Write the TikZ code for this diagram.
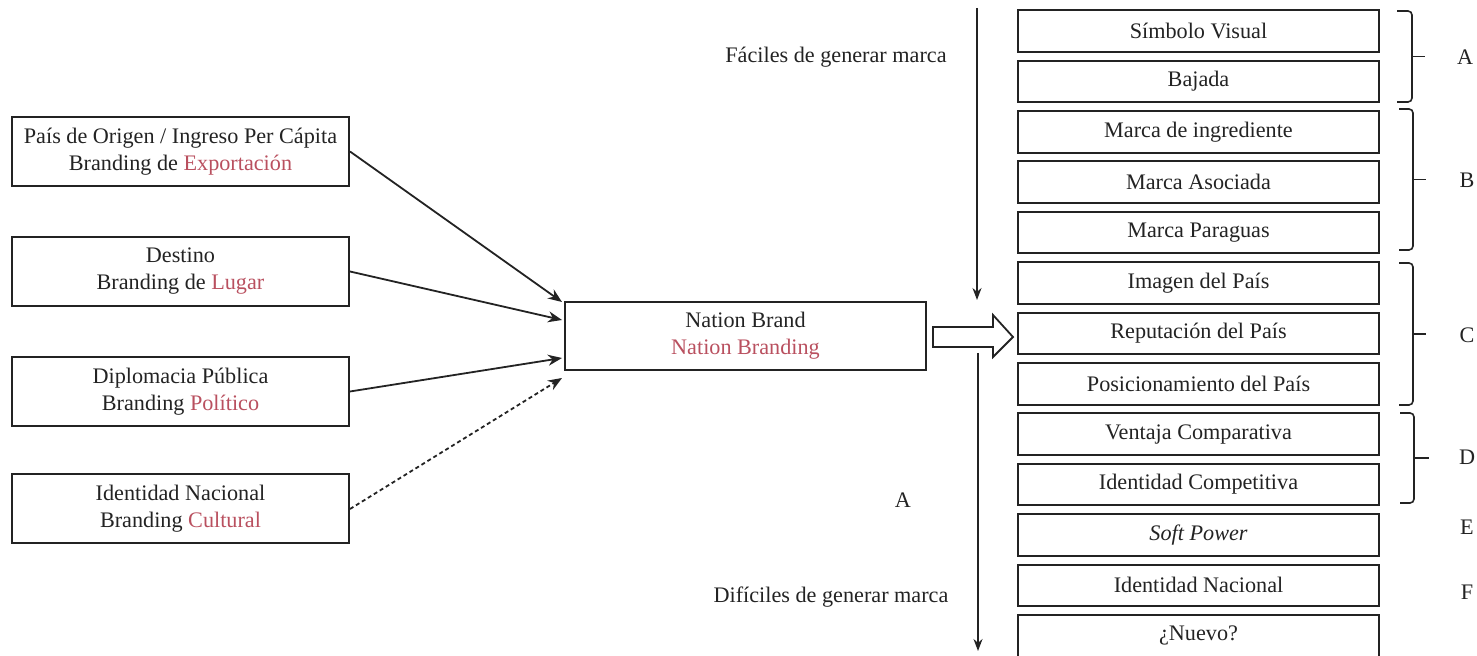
\documentclass[tikz,border=0pt]{standalone}
\usepackage{fontspec}
\setmainfont{Liberation Serif}
\usetikzlibrary{arrows.meta,calc}
\definecolor{brandred}{RGB}{185,80,95}
\definecolor{ink}{RGB}{35,35,35}

\begin{document}
\begin{tikzpicture}[x=0.5pt,y=-0.5pt,
  font=\fontsize{11.1}{13.5}\selectfont,
  box/.style={draw=ink,line width=1pt,text=ink,align=center,inner sep=0pt},
  leftbox/.style={box,minimum width=168.5pt,minimum height=34.5pt},
  tierbox/.style={box,minimum width=180.5pt,minimum height=20.75pt},
  feed/.style={draw=ink,line width=0.9pt,-{Stealth[length=7pt,width=5.5pt]}},
  scalearrow/.style={draw=ink,line width=0.8pt,-{Stealth[length=6pt,width=4.5pt]}},
  label/.style={text=ink,inner sep=0pt},
  bracket/.style={draw=ink,line width=0.8pt,rounded corners=2pt}]
\useasboundingbox (0,0) rectangle (1477,656);

% branding sources
\node[leftbox] (exp) at (180.5,151.5) {País de Origen / Ingreso Per Cápita\\Branding de \textcolor{brandred}{Exportación}};
\node[leftbox] (lug) at (180.5,271.5) {Destino\\Branding de \textcolor{brandred}{Lugar}};
\node[leftbox] (pol) at (180.5,391.5) {Diplomacia Pública\\Branding \textcolor{brandred}{Político}};
\node[leftbox] (cul) at (180.5,509) {Identidad Nacional\\Branding \textcolor{brandred}{Cultural}};

% central concept
\node[box,minimum width=180.5pt,minimum height=34pt] (nb) at (745.5,336) {Nation Brand\\\textcolor{brandred}{Nation Branding}};

\coordinate (in1) at ($(nb.west)+(-2,-34)$);
\coordinate (in2) at ($(nb.west)+(-2,-16)$);
\coordinate (in3) at ($(nb.west)+(-2,22)$);
\coordinate (in4) at ($(nb.west)+(-2,42)$);

\draw[feed] (exp.east) -- (in1);
\draw[feed] (lug.east) -- (in2);
\draw[feed] (pol.east) -- (in3);
\draw[feed,dash pattern=on 2pt off 1.5pt] (cul.east) -- (in4);

% hollow block arrow towards the tiers
\draw[ink,line width=0.9pt,fill=white] ($(nb.east)+(6,-9)$) -- ++(60,0) -- ++(0,-12)
  -- ++(20,22) -- ++(-20,20) -- ++(0,-10) -- ++(-60,0) -- cycle;

% tiers of brand building
\node[tierbox] (t1)  at (1198.5,31.0)  {Símbolo Visual};
\node[tierbox] (t2)  at (1198.5,81.4)  {Bajada};
\node[tierbox] (t3)  at (1198.5,131.8) {Marca de ingrediente};
\node[tierbox] (t4)  at (1198.5,182.2) {Marca Asociada};
\node[tierbox] (t5)  at (1198.5,232.6) {Marca Paraguas};
\node[tierbox] (t6)  at (1198.5,283.0) {Imagen del País};
\node[tierbox] (t7)  at (1198.5,333.4) {Reputación del País};
\node[tierbox] (t8)  at (1198.5,383.8) {Posicionamiento del País};
\node[tierbox] (t9)  at (1198.5,434.2) {Ventaja Comparativa};
\node[tierbox] (t10) at (1198.5,484.6) {Identidad Competitiva};
\node[tierbox] (t11) at (1198.5,535.0) {\itshape Soft Power};
\node[tierbox] (t12) at (1198.5,585.4) {Identidad Nacional};
\node[tierbox] (t13) at (1198.5,635.8) {¿Nuevo?};

% difficulty scale
\coordinate (easyTop) at (977,8);
\coordinate (easyEnd) at (977,300);
\coordinate (hardTop) at (978,353);
\coordinate (hardEnd) at (978,651);
\draw[scalearrow] (easyTop) -- (easyEnd);
\draw[scalearrow] (hardTop) -- (hardEnd);
\node[label] (easy) at (836,57) {Fáciles de generar marca};
\node[label] (hard) at (831,597) {Difíciles de generar marca};
\node[label] (midA) at (903,500) {A};

% group brackets
\draw[bracket] (1397,11) -- (1412,11) -- (1412,102) -- (1397,102);
\draw[bracket] (1412,56.5) -- (1425,56.5);
\draw[bracket] (1399,109) -- (1413,109) -- (1413,250) -- (1399,250);
\draw[bracket] (1413,179.5) -- (1426,179.5);
\draw[bracket] (1399,263) -- (1413,263) -- (1413,405) -- (1399,405);
\draw[bracket] (1413,334) -- (1426,334);
\draw[bracket] (1400,413) -- (1414,413) -- (1414,503) -- (1400,503);
\draw[bracket] (1414,458) -- (1429,458);

\node[label] (gA) at (1465,57)  {A};
\node[label] (gB) at (1467,180) {B};
\node[label] (gC) at (1467,335) {C};
\node[label] (gD) at (1467,457) {D};
\node[label] (gE) at (1467,527) {E};
\node[label] (gF) at (1467,592) {F};
\end{tikzpicture}
\end{document}
